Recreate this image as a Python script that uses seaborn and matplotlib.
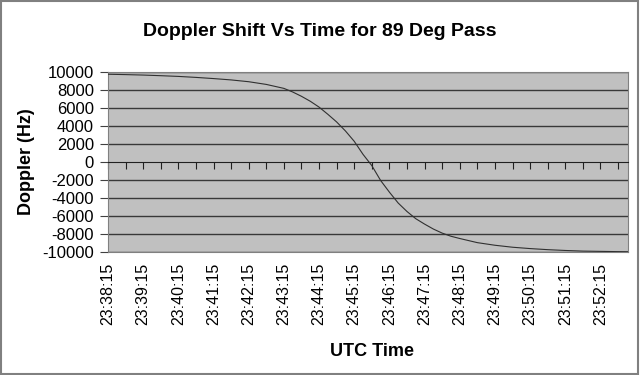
import numpy as np
import pandas as pd
import matplotlib
matplotlib.use("Agg")
import matplotlib.pyplot as plt
import seaborn as sns
from matplotlib.patches import Rectangle

# seconds after 23:38:15 and doppler values
seconds = [0, 30, 60, 90, 120, 150, 180, 210, 240, 270, 300,
           315, 330, 345, 360, 375, 390, 405, 420, 435, 450,
           465, 480, 495, 510, 525, 540, 555, 570, 585, 600,
           630, 660, 690, 720, 750, 780, 810, 840, 870, 887]
doppler = [9750, 9710, 9660, 9590, 9510, 9400, 9270, 9120, 8920, 8620, 8180,
           7780, 7300, 6750, 6100, 5300, 4450, 3450, 2300, 850, -400,
           -2050, -3350, -4560, -5500, -6300, -6900, -7450, -7900, -8250, -8500,
           -8960, -9250, -9470, -9620, -9740, -9830, -9900, -9930, -9960, -9970]

tick_labels = ["23:38:15", "23:39:15", "23:40:15", "23:41:15", "23:42:15",
               "23:43:15", "23:44:15", "23:45:15", "23:46:15", "23:47:15",
               "23:48:15", "23:49:15", "23:50:15", "23:51:15", "23:52:15"]
y_ticks = [10000, 8000, 6000, 4000, 2000, 0, -2000, -4000, -6000, -8000, -10000]

df = pd.DataFrame({"t": seconds, "doppler": doppler})

sns.set_style("white")
plt.rcParams["font.family"] = ["Liberation Sans", "DejaVu Sans"]
plt.rcParams["text.color"] = "black"
plt.rcParams["xtick.color"] = "black"
plt.rcParams["ytick.color"] = "black"
plt.rcParams["axes.labelcolor"] = "black"

fig = plt.figure(figsize=(6.4, 3.75), dpi=100)
ax = fig.add_axes([108 / 640, 1 - 252 / 375, 520 / 640, 180 / 375])
ax.set_facecolor("#c0c0c0")

# horizontal gridlines
for v in y_ticks:
    if v != 0:
        ax.axhline(v, color="#383838", lw=1.0, zorder=1)

sns.lineplot(data=df, x="t", y="doppler", ax=ax, color="#303030", lw=0.8, zorder=3)

ax.set_xlim(0, 887)
ax.set_ylim(-10000, 10000)
ax.set_yticks(y_ticks)
ax.set_yticklabels([str(v) for v in y_ticks])
ax.tick_params(axis="y", direction="out", length=6, width=0.8, color="#404040",
               labelsize=12, pad=4, left=True)

# x axis crosses at zero, tick marks every 30 s
ax.spines["bottom"].set_position(("data", 0))
ax.spines["bottom"].set_color("#202020")
ax.spines["bottom"].set_zorder(4)
ax.set_xticks(np.arange(0, 887, 30))
ax.set_xticklabels([])
ax.tick_params(axis="x", direction="out", length=5, width=0.8, color="#202020", bottom=True)

for s in ["top", "right", "left"]:
    ax.spines[s].set_color("#808080")
    ax.spines[s].set_linewidth(0.8)

# labels along the bottom of the plot area
sec = ax.secondary_xaxis(0)
sec.set_xticks(np.arange(len(tick_labels)) * 60)
sec.set_xticklabels(tick_labels, rotation=90, fontsize=11.5)
sec.tick_params(length=0, pad=8)
sec.spines["bottom"].set_color("#808080")
sec.spines["bottom"].set_linewidth(0.8)

ax.set_xlabel("")
ax.set_ylabel("Doppler (Hz)", fontsize=13, fontweight="bold", labelpad=5)
fig.text(372 / 640, 1 - 352 / 375, "UTC Time", ha="center", va="center",
         fontsize=13, fontweight="bold")
fig.text(320 / 640, 1 - 31 / 375, "Doppler Shift Vs Time for 89 Deg Pass",
         ha="center", va="center", fontsize=14, fontweight="bold")

# outer chart border
fig.patches.append(Rectangle((0.002, 0.003), 0.995, 0.994, transform=fig.transFigure,
                             fill=False, edgecolor="#808080", lw=1.5))

fig.savefig("out.png", dpi=100)
